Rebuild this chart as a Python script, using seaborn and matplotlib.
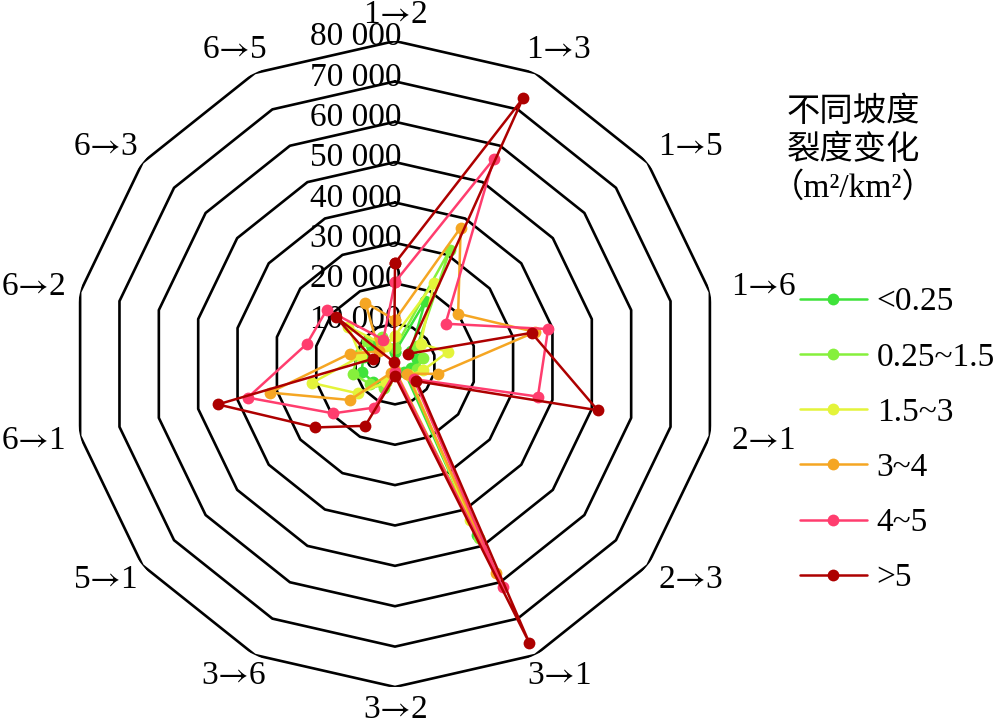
import matplotlib
matplotlib.use('Agg')

import numpy as np
import pandas as pd
import matplotlib.pyplot as plt
from matplotlib.lines import Line2D
from matplotlib.transforms import ScaledTranslation
import seaborn as sns

sns.set_theme(style="white")
plt.rcParams['font.family'] = ['Liberation Serif', 'Noto Sans CJK SC', 'DejaVu Sans']
plt.rcParams['text.color'] = 'black'
plt.rcParams['mathtext.fontset'] = 'stix'

# data

categories = ['1→2', '1→3', '1→5', '1→6', '2→1', '2→3', '3→1',
              '3→2', '3→6', '5→1', '6→1', '6→2', '6→3', '6→5']

slope_classes = ['<0.25', '0.25~1.5', '1.5~3', '3~4', '4~5', '>5']

lt_025 = [3000, 17300, 5000, 5500, 4000, 3000, 47000, 2000, 5000, 7000, 8500, 8000, 7500, 6000]
s025_15 = [4000, 31400, 7000, 7000, 5500, 4000, 47800, 2500, 6500, 8000, 10700, 9500, 9000, 7500]
s15_3 = [7000, 22300, 8100, 13400, 7100, 4500, 42800, 2500, 5000, 11700, 21100, 8700, 14800, 5000]
s3_4 = [10900, 37500, 20000, 35600, 10900, 3900, 57400, 1500, 2500, 14300, 31800, 11500, 5000, 16900]
s4_5 = [20300, 56400, 16000, 38900, 36300, 6000, 61400, 2000, 12000, 19600, 37400, 22400, 21600, 6700]
gt_5 = [25000, 73000, 4000, 34700, 51500, 6800, 76700, 3000, 17000, 25200, 45000, 5700, 18800, 500]

series = [lt_025, s025_15, s15_3, s3_4, s4_5, gt_5]
colors = ['#3FE33A', '#86F03C', '#E4F43A', '#F5A623', '#FF3D6E', '#AD0000']

ring_values = [0, 10000, 20000, 30000, 40000, 50000, 60000, 70000, 80000]
ring_labels = ['0', '10 000', '20 000', '30 000', '40 000', '50 000', '60 000', '70 000', '80 000']

# long table, each loop closed back to the first category

theta = np.linspace(0, 2 * np.pi, len(categories), endpoint=False)
theta_closed = np.append(theta, 2 * np.pi)

rows = []
for name, vals in zip(slope_classes, series):
    for t, v in zip(theta_closed, vals + vals[:1]):
        rows.append({'slope': name, 'theta': t, 'value': v})
df = pd.DataFrame(rows)

# figure

fig = plt.figure(figsize=(10, 7.22), dpi=100)
ax = fig.add_axes([0.072, 0.0485, 0.646, 0.8947], projection='polar')
ax.set_theta_zero_location('N')
ax.set_theta_direction(-1)
ax.set_ylim(0, 80000)
ax.grid(False)
ax.spines['polar'].set_visible(False)
ax.set_xticks([])
ax.set_yticks([])
ax.patch.set_alpha(0)

# polygon rings
for v in ring_values[1:]:
    ax.plot(theta_closed, [v] * len(theta_closed), color='black', lw=1.9, zorder=1)

sns.lineplot(data=df, x='theta', y='value', hue='slope', hue_order=slope_classes,
             palette=colors, sort=False, estimator=None, marker='o',
             markersize=8.5, markeredgewidth=0, linewidth=1.8, legend=False,
             ax=ax, zorder=3)
ax.set_xlabel('')
ax.set_ylabel('')

# ring labels along the top spoke
for v, lab in zip(ring_values, ring_labels):
    dx = 7 if v > 0 else -14
    off = ScaledTranslation(dx / 100, 4 / 100, fig.dpi_scale_trans)
    ax.text(0, v, lab, ha='right', va='center', fontsize=24,
            transform=ax.transData + off, zorder=2)

# category labels, pushed outward from the end of each spoke
for t, lab in zip(theta, categories):
    a, b = lab.split('→')
    sx = 40 if np.sin(t) > 0 else 33
    sy = 11 if np.cos(t) > 0 else 8
    off = ScaledTranslation(sx * np.sin(t) / 100, sy * np.cos(t) / 100,
                            fig.dpi_scale_trans)
    ax.text(t, 83700, a + '$→$' + b, ha='center', va='center', fontsize=24,
            transform=ax.transData + off, clip_on=False)

# legend
fig.text(0.853, 1 - 150 / 722, '不同坡度\n裂度变化\n（m²/km²）', ha='center',
         va='center', fontsize=24, linespacing=1.25)

handles = [Line2D([], [], color=c, lw=1.8, marker='o', markersize=8.5,
                  markeredgewidth=0) for c in colors]
fig.legend(handles, slope_classes, loc='upper left',
           bbox_to_anchor=(0.800, 1 - 287 / 722), frameon=False, fontsize=24,
           handlelength=2.0, handletextpad=0.3, labelspacing=0.74,
           borderpad=0, borderaxespad=0)

plt.savefig('out.png', dpi=100)
